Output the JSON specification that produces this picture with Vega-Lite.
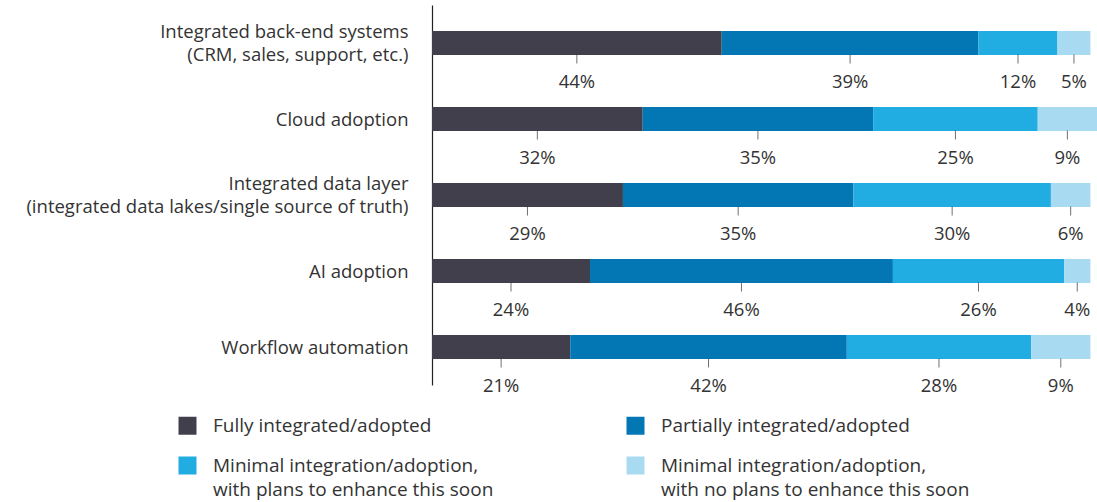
{
  "$schema": "https://vega.github.io/schema/vega-lite/v6.json",
  "autosize": {"type": "none"},
  "padding": {"left": 432, "top": 5, "right": 0, "bottom": 117},
  "width": 665,
  "height": 380,
  "background": "white",
  "config": {
    "view": {"stroke": null},
    "font": "Open Sans",
    "text": {"font": "Open Sans"}
  },
  "data": {
    "values": [
      {"cat": "Integrated back-end systems (CRM, sales, support, etc.)", "status": "Fully integrated/adopted", "order": 1, "pct": 44},
      {"cat": "Integrated back-end systems (CRM, sales, support, etc.)", "status": "Partially integrated/adopted", "order": 2, "pct": 39},
      {"cat": "Integrated back-end systems (CRM, sales, support, etc.)", "status": "Minimal integration/adoption, with plans to enhance this soon", "order": 3, "pct": 12},
      {"cat": "Integrated back-end systems (CRM, sales, support, etc.)", "status": "Minimal integration/adoption, with no plans to enhance this soon", "order": 4, "pct": 5},
      {"cat": "Cloud adoption", "status": "Fully integrated/adopted", "order": 1, "pct": 32},
      {"cat": "Cloud adoption", "status": "Partially integrated/adopted", "order": 2, "pct": 35},
      {"cat": "Cloud adoption", "status": "Minimal integration/adoption, with plans to enhance this soon", "order": 3, "pct": 25},
      {"cat": "Cloud adoption", "status": "Minimal integration/adoption, with no plans to enhance this soon", "order": 4, "pct": 9},
      {"cat": "Integrated data layer (integrated data lakes/single source of truth)", "status": "Fully integrated/adopted", "order": 1, "pct": 29},
      {"cat": "Integrated data layer (integrated data lakes/single source of truth)", "status": "Partially integrated/adopted", "order": 2, "pct": 35},
      {"cat": "Integrated data layer (integrated data lakes/single source of truth)", "status": "Minimal integration/adoption, with plans to enhance this soon", "order": 3, "pct": 30},
      {"cat": "Integrated data layer (integrated data lakes/single source of truth)", "status": "Minimal integration/adoption, with no plans to enhance this soon", "order": 4, "pct": 6},
      {"cat": "AI adoption", "status": "Fully integrated/adopted", "order": 1, "pct": 24},
      {"cat": "AI adoption", "status": "Partially integrated/adopted", "order": 2, "pct": 46},
      {"cat": "AI adoption", "status": "Minimal integration/adoption, with plans to enhance this soon", "order": 3, "pct": 26},
      {"cat": "AI adoption", "status": "Minimal integration/adoption, with no plans to enhance this soon", "order": 4, "pct": 4},
      {"cat": "Workflow automation", "status": "Fully integrated/adopted", "order": 1, "pct": 21},
      {"cat": "Workflow automation", "status": "Partially integrated/adopted", "order": 2, "pct": 42},
      {"cat": "Workflow automation", "status": "Minimal integration/adoption, with plans to enhance this soon", "order": 3, "pct": 28},
      {"cat": "Workflow automation", "status": "Minimal integration/adoption, with no plans to enhance this soon", "order": 4, "pct": 9}
    ]
  },
  "transform": [
    {"stack": "pct", "groupby": ["cat"], "sort": [{"field": "order"}], "as": ["x0", "x1"]},
    {"calculate": "(datum.x0 + datum.x1) / 2", "as": "mid"},
    {"calculate": "datum.pct + '%'", "as": "lbl"}
  ],
  "encoding": {
    "y": {
      "field": "cat",
      "type": "nominal",
      "sort": ["Integrated back-end systems (CRM, sales, support, etc.)", "Cloud adoption", "Integrated data layer (integrated data lakes/single source of truth)", "AI adoption", "Workflow automation"],
      "scale": {"paddingInner": 0, "paddingOuter": 0},
      "axis": {
        "title": null,
        "ticks": false,
        "domain": true,
        "domainColor": "#222222",
        "domainWidth": 1.2,
        "labelPadding": 24,
        "labelFont": "Open Sans",
        "labelFontSize": 18.5,
        "labelColor": "#333333",
        "labelLineHeight": 23,
        "labelLimit": 420,
        "labelOffset": {"condition": {"test": "indexof(datum.value, '(') >= 0", "value": -11}, "value": 1},
        "labelExpr": "split(replace(datum.value, ' (', '|('), '|')"
      }
    }
  },
  "layer": [
    {
      "mark": {"type": "bar", "size": 24},
      "encoding": {
        "x": {"field": "x0", "type": "quantitative", "scale": {"domain": [0, 101], "nice": false}, "axis": null},
        "x2": {"field": "x1"},
        "color": {
          "field": "status",
          "type": "nominal",
          "scale": {
            "domain": ["Fully integrated/adopted", "Partially integrated/adopted", "Minimal integration/adoption, with plans to enhance this soon", "Minimal integration/adoption, with no plans to enhance this soon"],
            "range": ["#423F4D", "#0277B4", "#22ADE2", "#A8DBF1"]
          },
          "legend": {
            "title": null,
            "orient": "none",
            "legendX": -254,
            "legendY": 411,
            "direction": "horizontal",
            "columns": 2,
            "columnPadding": 132,
            "rowPadding": 20,
            "symbolType": "square",
            "symbolSize": 324,
            "symbolStrokeWidth": 0,
            "symbolOpacity": 1,
            "labelFont": "Open Sans",
            "labelFontSize": 19,
            "labelColor": "#333333",
            "labelOffset": 16,
            "labelLimit": 420,
            "labelExpr": "split(replace(datum.label, ', ', ',|'), '|')",
            "encode": {"labels": {"update": {"lineHeight": {"value": 24}}}}
          }
        }
      }
    },
    {
      "mark": {"type": "tick", "orient": "vertical", "size": 9, "thickness": 1, "yOffset": 16, "color": "#333333"},
      "encoding": {
        "x": {"field": "mid", "type": "quantitative"}
      }
    },
    {
      "mark": {"type": "text", "dy": 39, "baseline": "middle", "align": "center", "fontSize": 18.5, "color": "#333333", "font": "Open Sans"},
      "encoding": {
        "x": {"field": "mid", "type": "quantitative"},
        "text": {"field": "lbl"}
      }
    }
  ]
}
